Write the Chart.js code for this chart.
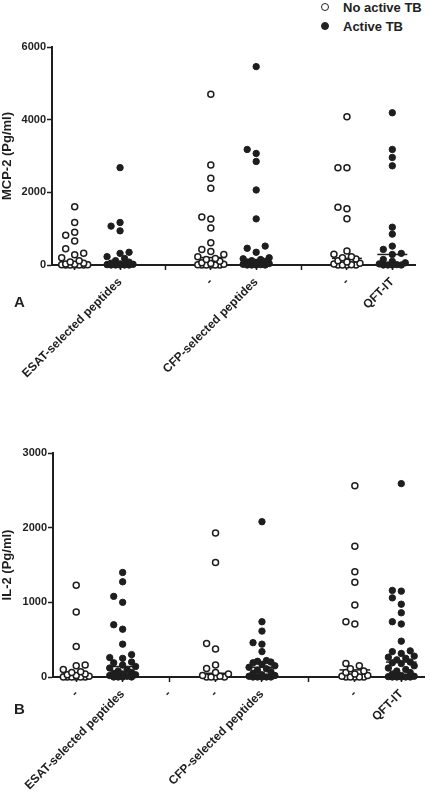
<!DOCTYPE html>
<html>
<head>
<meta charset="utf-8">
<script src="https://cdn.jsdelivr.net/npm/chart.js@4.4.1/dist/chart.umd.min.js"></script>
<style>
  body { margin: 0; background: #fff; font-family: "Liberation Sans", Arial, sans-serif; }
  #wrap { position: relative; width: 430px; height: 797px; }
  canvas { position: absolute; left: 0; }
  #chartA { top: 0; }
  #chartB { top: 400px; }
  .legend { position: absolute; left: 321px; font-weight: bold; font-size: 13px; color: #222; }
  .legend span { display: inline-block; width: 6px; height: 6px; border-radius: 50%; margin-right: 14px; vertical-align: 1px; }
  .open { border: 1.5px solid #222; background: #fff; }
  .filled { border: 1.5px solid #222; background: #222; }
  .panel { position: absolute; left: 14px; font-weight: bold; font-size: 15px; color: #222; }
</style>
</head>
<body>
<div id="wrap">
  <div class="legend" style="top:0px"><span class="open"></span>No active TB</div>
  <div class="legend" style="top:19px"><span class="filled"></span>Active TB</div>
  <canvas id="chartA" width="430" height="400"></canvas>
  <canvas id="chartB" width="430" height="397"></canvas>
  <div class="panel" style="top:293px">A</div>
  <div class="panel" style="top:700px">B</div>
</div>
<script>
// tick labels of the eight x positions
var labelsA = ["", "ESAT-selected peptides", "", "-", "CFP-selected peptides", "", "-", "QFT-IT"];
var labelsB = ["-", "ESAT-selected peptides", "-", "-", "CFP-selected peptides", "", "-", "QFT-IT"];

// MCP-2 (Pg/ml), panel A
var esatNoTB_mcp = [1600, 1170, 900, 820, 660, 450, 320, 280, 200, 120, 80, 50, 30, 20, 10, 5, 0, 0, 0, 0, 0];
var esatTB_mcp = [2680, 1170, 1070, 940, 350, 320, 230, 180, 120, 80, 50, 30, 20, 10, 0, 0, 0, 0, 0];
var cfpNoTB_mcp = [4700, 2750, 2390, 2110, 1320, 1265, 1020, 615, 430, 370, 290, 230, 180, 150, 100, 60, 40, 20, 10, 0, 0, 0, 0, 0];
var cfpTB_mcp = [5460, 3180, 3070, 2850, 2065, 1270, 520, 460, 350, 200, 170, 150, 120, 100, 80, 60, 40, 20, 10, 0, 0, 0, 0];
var qftNoTB_mcp = [4080, 2680, 2680, 1590, 1550, 1270, 385, 295, 230, 200, 165, 120, 80, 50, 30, 10, 0, 0, 0, 0];
var qftTB_mcp = [4190, 3180, 2960, 2730, 1040, 850, 520, 430, 320, 290, 150, 100, 60, 30, 10, 0, 0, 0, 0];

// IL-2 (Pg/ml), panel B
var esatNoTB_il2 = [1230, 870, 410, 160, 150, 100, 70, 60, 40, 30, 20, 10, 0, 0, 0, 0, 0, 0];
var esatTB_il2 = [1400, 1275, 1080, 1000, 700, 640, 440, 300, 260, 250, 200, 190, 160, 140, 120, 100, 80, 60, 50, 40, 30, 20, 10, 0, 0, 0, 0];
var cfpNoTB_il2 = [1930, 1535, 450, 375, 160, 115, 60, 40, 20, 10, 0, 0, 0, 0];
var cfpTB_il2 = [2080, 740, 615, 460, 440, 340, 220, 210, 200, 190, 170, 150, 130, 110, 90, 70, 50, 30, 20, 10, 0, 0, 0, 0, 0];
var qftNoTB_il2 = [2560, 1750, 1410, 1270, 965, 740, 710, 180, 150, 110, 80, 60, 40, 20, 10, 0, 0, 0, 0, 0];
var qftTB_il2 = [2590, 1160, 1150, 1060, 975, 860, 740, 710, 480, 350, 340, 315, 280, 265, 250, 230, 200, 190, 180, 150, 120, 100, 80, 60, 40, 20, 10, 5, 0, 0, 0, 0, 0];

var ink = "#1e1e1e";

function median(arr) {
  var s = arr.slice().sort(function (a, b) { return a - b; });
  var m = Math.floor(s.length / 2);
  return s.length % 2 ? s[m] : (s[m - 1] + s[m]) / 2;
}

// spread points sideways so they don't sit on top of each other
function swarm(values, center, pxPerVal, pxPerCat) {
  var sorted = values.slice().sort(function (a, b) { return a - b; });
  var offsets = [0, -9, 9, -4.5, 4.5, -13, 13];
  var placed = [];
  return sorted.map(function (v, i) {
    var y = v * pxPerVal;
    var pick = null;
    for (var k = 0; k < offsets.length; k++) {
      var ok = placed.every(function (p) {
        return Math.hypot(p.dx - offsets[k], p.y - y) >= 6.5;
      });
      if (ok) { pick = offsets[k]; break; }
    }
    if (pick === null) pick = offsets[i % offsets.length];
    placed.push({ dx: pick, y: y });
    return { x: center + pick / pxPerCat, y: v };
  });
}

function makeChart(id, opts) {
  var pxPerVal = opts.plotH / opts.yMax;
  var pxPerCat = opts.plotW / 8;
  var openPts = [], filledPts = [];
  var datasets = [];
  opts.groups.forEach(function (g, gi) {
    var c0 = gi * 3, c1 = gi * 3 + 1;
    openPts = openPts.concat(swarm(g[0], c0, pxPerVal, pxPerCat));
    filledPts = filledPts.concat(swarm(g[1], c1, pxPerVal, pxPerCat));
    [[c0, g[0]], [c1, g[1]]].forEach(function (col) {
      var m = median(col[1]);
      datasets.push({
        type: "line",
        data: [{ x: col[0] - 0.33, y: m }, { x: col[0] + 0.33, y: m }],
        borderColor: ink, borderWidth: 1.5, pointRadius: 0, clip: false,
      });
    });
  });
  datasets.unshift({
    label: "Active TB", data: filledPts, pointRadius: 3.2,
    backgroundColor: ink, borderColor: ink, borderWidth: 1, clip: false,
  });
  datasets.unshift({
    label: "No active TB", data: openPts, pointRadius: 3,
    backgroundColor: "#fff", borderColor: ink, borderWidth: 1.5, clip: false,
  });

  return new Chart(document.getElementById(id), {
    type: "scatter",
    data: { datasets: datasets },
    options: {
      responsive: false,
      animation: false,
      layout: { padding: { top: opts.top, right: opts.right, left: 0, bottom: 0 } },
      plugins: { legend: { display: false }, tooltip: { enabled: false } },
      scales: {
        x: {
          type: "linear", min: -0.5, max: 7.5,
          afterBuildTicks: function (s) {
            s.ticks = [0, 1, 2, 3, 4, 5, 6, 7].map(function (v) { return { value: v }; });
          },
          afterFit: function (s) { s.height = opts.xH; },
          ticks: {
            autoSkip: false, minRotation: 45, maxRotation: 45, padding: 5,
            color: ink, font: { family: "Liberation Sans", size: 12, weight: "bold" },
            callback: function (v) { return opts.labels[v]; },
          },
          grid: { drawOnChartArea: false, tickLength: 5, tickWidth: 1.5, color: ink },
          border: { color: ink, width: 2 },
        },
        y: {
          min: 0, max: opts.yMax,
          afterFit: function (s) { s.width = opts.left; },
          ticks: {
            stepSize: opts.step, padding: 1, color: ink,
            font: { family: "Liberation Sans", size: 11, weight: "bold" },
            callback: function (v) { return String(v); },
          },
          grid: { drawOnChartArea: false, tickLength: 5, tickWidth: 1.5, color: ink },
          border: { color: ink, width: 2 },
          title: {
            display: true, text: opts.title, color: ink, padding: { top: 0, bottom: 2 },
            font: { family: "Liberation Sans", size: 13, weight: "bold" },
          },
        },
      },
    },
  });
}

makeChart("chartA", {
  labels: labelsA, title: "MCP-2 (Pg/ml)", yMax: 6000, step: 2000,
  top: 47, right: 15, left: 52, xH: 135, plotH: 218, plotW: 363,
  groups: [[esatNoTB_mcp, esatTB_mcp], [cfpNoTB_mcp, cfpTB_mcp], [qftNoTB_mcp, qftTB_mcp]],
});

makeChart("chartB", {
  labels: labelsB, title: "IL-2 (Pg/ml)", yMax: 3000, step: 1000,
  top: 53, right: 3, left: 53, xH: 120, plotH: 224, plotW: 374,
  groups: [[esatNoTB_il2, esatTB_il2], [cfpNoTB_il2, cfpTB_il2], [qftNoTB_il2, qftTB_il2]],
});
</script>
</body>
</html>
